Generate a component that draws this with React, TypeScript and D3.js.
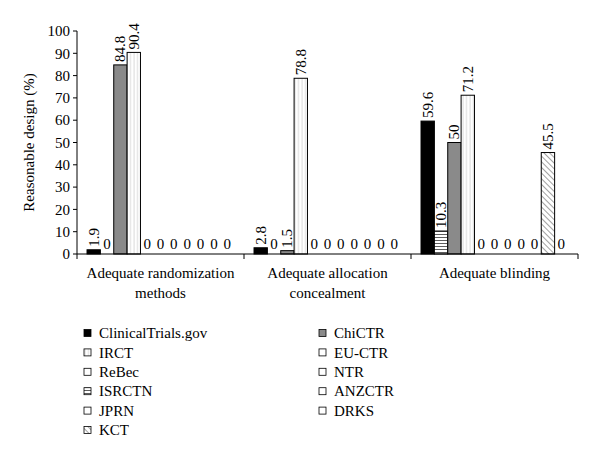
import React from "react";
import * as d3 from "d3";

const groups = [
  ["Adequate randomization", "methods"],
  ["Adequate allocation", "concealment"],
  ["Adequate blinding"],
];
const groupKeys = ["rand", "alloc", "blind"];
const series = ["ClinicalTrials.gov", "ISRCTN", "ChiCTR", "IRCT", "ReBec", "JPRN", "EU-CTR", "NTR", "ANZCTR", "KCT", "DRKS"];
const randValues = [1.9, 0, 84.8, 90.4, 0, 0, 0, 0, 0, 0, 0];
const allocValues = [2.8, 0, 1.5, 78.8, 0, 0, 0, 0, 0, 0, 0];
const blindValues = [59.6, 10.3, 50, 71.2, 0, 0, 0, 0, 0, 45.5, 0];
const yTicks = [0, 10, 20, 30, 40, 50, 60, 70, 80, 90, 100];
const legendLeft = ["ClinicalTrials.gov", "IRCT", "ReBec", "ISRCTN", "JPRN", "KCT"];
const legendRight = ["ChiCTR", "EU-CTR", "NTR", "ANZCTR", "DRKS"];

const fills: Record<string, string> = {
  "ClinicalTrials.gov": "#000",
  ISRCTN: "url(#hstripe)",
  ChiCTR: "#8a8a8a",
  IRCT: "url(#vstripe)",
  KCT: "url(#dstripe)",
};
const fillOf = (s: string) => fills[s] ?? "#fff";

const FONT = "'Liberation Serif', 'Times New Roman', serif";

export default function App() {
  const W = 600, H = 462;
  const left = 77, right = 578, top = 31, bottom = 254;
  const y = d3.scaleLinear().domain([0, 100]).range([bottom, top]);
  const x0 = d3.scaleBand().domain(groupKeys).range([left, right]).padding(0);
  const x1 = d3.scaleBand().domain(series).range([0, x0.bandwidth()]).paddingInner(0).paddingOuter(0.75);
  const valuesByGroup = [randValues, allocValues, blindValues];
  const bw = x1.bandwidth();

  return (
    <svg width={W} height={H} style={{ display: "block", position: "absolute", left: 0, top: 0 }} fontFamily={FONT}>
      <defs>
        <pattern id="hstripe" width="4" height="3" patternUnits="userSpaceOnUse">
          <rect width="4" height="3" fill="#fff" />
          <line x1="0" y1="0.5" x2="4" y2="0.5" stroke="#333" strokeWidth="0.8" />
        </pattern>
        <pattern id="vstripe" width="3.5" height="4" patternUnits="userSpaceOnUse">
          <rect width="3.5" height="4" fill="#fff" />
          <line x1="1" y1="0" x2="1" y2="4" stroke="#c4c4c4" strokeWidth="0.7" />
        </pattern>
        <pattern id="dstripe" width="4" height="4" patternUnits="userSpaceOnUse" patternTransform="rotate(-45)">
          <rect width="4" height="4" fill="#fff" />
          <line x1="0" y1="0" x2="0" y2="4" stroke="#444" strokeWidth="1" />
        </pattern>
      </defs>
      <rect width={W} height={H} fill="#fff" />

      {/* bars */}
      {groupKeys.map((g, gi) =>
        series.map((s, si) => {
          const v = valuesByGroup[gi][si];
          const bx = (x0(g) ?? 0) + (x1(s) ?? 0);
          const cx = bx + bw / 2;
          return (
            <g key={g + s}>
              {v > 0 && (
                <rect x={bx} y={y(v)} width={bw} height={y(0) - y(v)} fill={fillOf(s)} stroke="#000" strokeWidth={1} />
              )}
              {v > 0 ? (
                <text
                  transform={`translate(${cx},${y(v) - 3}) rotate(-90)`}
                  fontSize={15}
                  dominantBaseline="central"
                  textAnchor="start"
                  fill="#000"
                >
                  {v}
                </text>
              ) : (
                <text x={cx} y={bottom - 5} fontSize={15} textAnchor="middle" fill="#000">
                  0
                </text>
              )}
            </g>
          );
        })
      )}

      {/* y axis */}
      <line x1={left} x2={left} y1={top} y2={bottom} stroke="#000" strokeWidth={1} />
      {yTicks.map((t) => (
        <g key={t}>
          <line x1={left - 4} x2={left} y1={y(t)} y2={y(t)} stroke="#000" />
          <text x={left - 7} y={y(t)} dy="0.35em" textAnchor="end" fontSize={15}>
            {t}
          </text>
        </g>
      ))}
      <text transform={`translate(29,${(top + bottom) / 2}) rotate(-90)`} textAnchor="middle" dominantBaseline="central" fontSize={15}>
        Reasonable design (%)
      </text>

      {/* x axis */}
      <line x1={left} x2={right} y1={bottom} y2={bottom} stroke="#000" strokeWidth={1} />
      {[...groupKeys.map((g) => x0(g) ?? 0), right].map((px, i) => (
        <line key={i} x1={px} x2={px} y1={bottom} y2={bottom + 5} stroke="#000" />
      ))}
      {groupKeys.map((g, gi) => (
        <text key={g} x={(x0(g) ?? 0) + x0.bandwidth() / 2} y={bottom + 24} textAnchor="middle" fontSize={15}>
          {groups[gi].map((line, li) => (
            <tspan key={li} x={(x0(g) ?? 0) + x0.bandwidth() / 2} dy={li === 0 ? 0 : 20}>
              {line}
            </tspan>
          ))}
        </text>
      ))}

      {/* legend */}
      {[legendLeft, legendRight].map((col, ci) =>
        col.map((s, ri) => {
          const lx = ci === 0 ? 84 : 319;
          const ly = 333 + ri * 19.4;
          return (
            <g key={s}>
              <rect x={lx} y={ly - 3.5} width={7} height={7} fill={fillOf(s)} stroke="#000" strokeWidth={0.8} />
              <text x={lx + 15} y={ly} dy="0.35em" fontSize={15}>
                {s}
              </text>
            </g>
          );
        })
      )}
    </svg>
  );
}
